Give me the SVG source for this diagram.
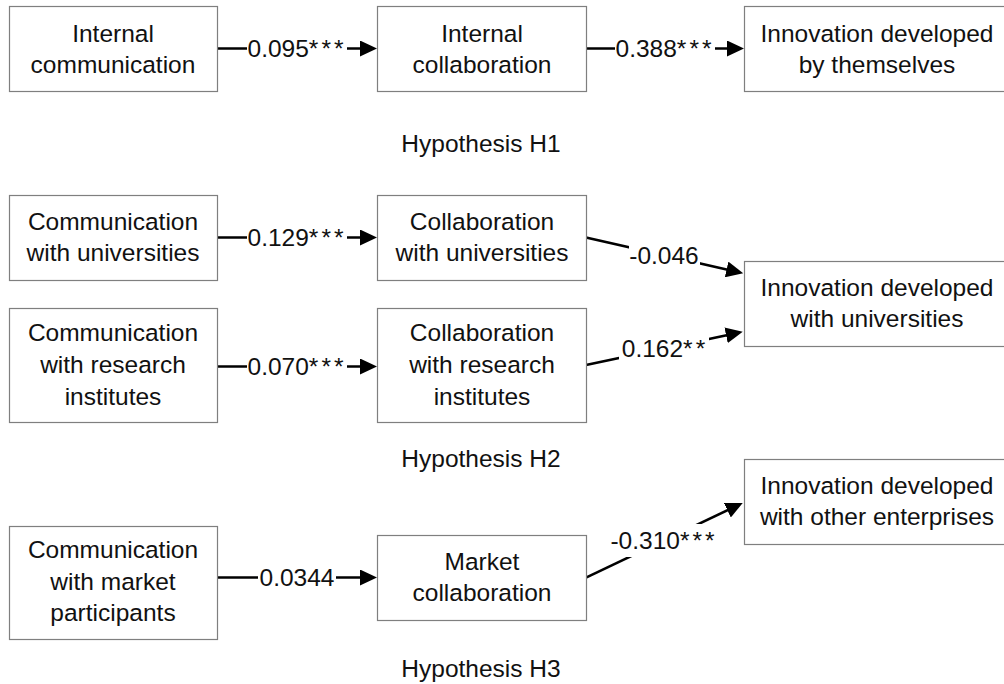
<svg xmlns="http://www.w3.org/2000/svg" width="1004" height="684" viewBox="0 0 1004 684">
<style>
  .box { fill: #ffffff; stroke: #7f7f7f; stroke-width: 1.2; }
  .t { font-family: "Liberation Sans", Arial, sans-serif; font-size: 24.5px; fill: #111111; text-anchor: middle; }
  .ast { letter-spacing: 3px; }
  .ln { fill: none; stroke: #000000; stroke-width: 2.6; marker-end: url(#ah); }
  .mask { fill: #ffffff; stroke: none; }
</style>
<defs>
  <marker id="ah" viewBox="0 0 17 16" refX="9" refY="8" markerWidth="17" markerHeight="16" markerUnits="userSpaceOnUse" orient="auto">
    <path d="M0,0 L17,8 L0,16 Z" fill="#000000"/>
  </marker>
</defs>
<rect width="1004" height="684" fill="#ffffff"/>

<g id="connectors">
  <path class="ln" d="M217,48.5 L369,48.5"/>
  <rect class="mask" x="247" y="36" width="100" height="26"/>
  <text class="t" x="297" y="57">0.095<tspan class="ast">***</tspan></text>

  <path class="ln" d="M586,48.5 L736,48.5"/>
  <rect class="mask" x="615" y="36" width="100" height="26"/>
  <text class="t" x="665" y="57">0.388<tspan class="ast">***</tspan></text>

  <path class="ln" d="M217,237.5 L369,237.5"/>
  <rect class="mask" x="247" y="225" width="100" height="26"/>
  <text class="t" x="297" y="246">0.129<tspan class="ast">***</tspan></text>

  <path class="ln" d="M217,366.5 L369,366.5"/>
  <rect class="mask" x="247" y="354" width="100" height="26"/>
  <text class="t" x="297" y="375">0.070<tspan class="ast">***</tspan></text>

  <path class="ln" d="M217,577.5 L369,577.5"/>
  <rect class="mask" x="258" y="565" width="78" height="26"/>
  <text class="t" x="297" y="586">0.0344</text>

  <path class="ln" d="M586,237.5 L735.4,271.4"/>
  <rect class="mask" x="629" y="239" width="71" height="33"/>
  <text class="t" x="664" y="264">-0.046</text>

  <path class="ln" d="M586,365 L734.9,333.4"/>
  <rect class="mask" x="619" y="331" width="90" height="34"/>
  <text class="t" x="665" y="357">0.162<tspan class="ast">**</tspan></text>

  <path class="ln" d="M586,577.7 L735.5,506.4"/>
  <rect class="mask" x="608" y="524" width="112" height="33"/>
  <text class="t" x="664" y="549">-0.310<tspan class="ast">***</tspan></text>
</g>

<g id="n1">
  <rect class="box" x="9.5" y="6.5" width="208" height="85"/>
  <text class="t" x="113" y="42">Internal</text>
  <text class="t" x="113" y="73">communication</text>
</g>
<g id="n2">
  <rect class="box" x="377.5" y="6.5" width="209" height="85"/>
  <text class="t" x="482" y="42">Internal</text>
  <text class="t" x="482" y="73">collaboration</text>
</g>
<g id="n3">
  <rect class="box" x="744.5" y="6.5" width="266" height="85"/>
  <text class="t" x="877" y="42">Innovation developed</text>
  <text class="t" x="877" y="73">by themselves</text>
</g>
<g id="h1"><text class="t" x="481" y="152">Hypothesis H1</text></g>

<g id="n4">
  <rect class="box" x="9.5" y="195.5" width="208" height="85"/>
  <text class="t" x="113" y="230">Communication</text>
  <text class="t" x="113" y="261">with universities</text>
</g>
<g id="n5">
  <rect class="box" x="377.5" y="195.5" width="209" height="85"/>
  <text class="t" x="482" y="230">Collaboration</text>
  <text class="t" x="482" y="261">with universities</text>
</g>
<g id="n6">
  <rect class="box" x="9.5" y="308.5" width="208" height="114"/>
  <text class="t" x="113" y="341">Communication</text>
  <text class="t" x="113" y="373">with research</text>
  <text class="t" x="113" y="405">institutes</text>
</g>
<g id="n7">
  <rect class="box" x="377.5" y="308.5" width="209" height="114"/>
  <text class="t" x="482" y="341">Collaboration</text>
  <text class="t" x="482" y="373">with research</text>
  <text class="t" x="482" y="405">institutes</text>
</g>
<g id="n8">
  <rect class="box" x="744.5" y="261.5" width="266" height="85"/>
  <text class="t" x="877" y="296">Innovation developed</text>
  <text class="t" x="877" y="327">with universities</text>
</g>
<g id="h2"><text class="t" x="481" y="467">Hypothesis H2</text></g>

<g id="n9">
  <rect class="box" x="9.5" y="526.5" width="208" height="113"/>
  <text class="t" x="113" y="558">Communication</text>
  <text class="t" x="113" y="590">with market</text>
  <text class="t" x="113" y="621">participants</text>
</g>
<g id="n10">
  <rect class="box" x="377.5" y="535.5" width="209" height="85"/>
  <text class="t" x="482" y="570">Market</text>
  <text class="t" x="482" y="601">collaboration</text>
</g>
<g id="n11">
  <rect class="box" x="744.5" y="459.5" width="266" height="85"/>
  <text class="t" x="877" y="494">Innovation developed</text>
  <text class="t" x="877" y="525">with other enterprises</text>
</g>
<g id="h3"><text class="t" x="481" y="677">Hypothesis H3</text></g>
</svg>
